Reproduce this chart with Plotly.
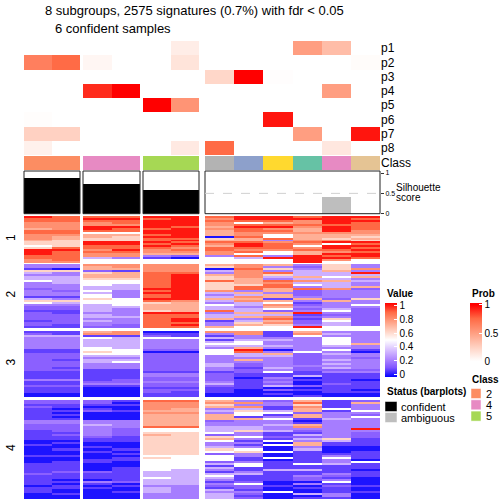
import plotly.graph_objects as go

title_lines = ["8 subgroups, 2575 signatures (0.7%) with fdr &lt; 0.05", "6 confident samples"]
prob_labels = ["p1", "p2", "p3", "p4", "p5", "p6", "p7", "p8"]

# each list runs sample by sample: group 1 (2), group 2 (2), group 3 (2), group 4 (6)
p1 = [0, 0, 0, 0, 0, .10, 0, 0, 0, .5, .35, 0]
p2 = [.65, .75, .05, 0, 0, .15, 0, 0, 0, 0, 0, .02]
p3 = [0, 0, 0, 0, 0, 0, .22, 1, .01, 0, 0, 0]
p4 = [0, 0, .9, 1, 0, 0, 0, 0, 0, 0, .5, 0]
p5 = [0, 0, 0, 0, 1, .55, 0, 0, 0, 0, 0, 0]
p6 = [.015, 0, 0, 0, 0, 0, 0, 0, .95, 0, 0, 0]
p7 = [.25, .25, 0, 0, 0, 0, 0, 0, 0, .5, 0, .95]
p8 = [.08, 0, 0, 0, 0, .12, .75, 0, 0, 0, .13, 0]

classes = ["2", "2", "4", "4", "5", "5", "1", "3", "6", "7", "4", "8"]
class_colors = {"1": "#B3B3B3", "2": "#FC8D62", "3": "#8DA0CB", "4": "#E78AC3",
                "5": "#A6D854", "6": "#FFD92F", "7": "#66C2A5", "8": "#E5C494"}
silhouette = [.88, .88, .72, .72, .58, .58, 0, 0, 0, 0, .41, 0]
status = ["confident"] * 6 + ["ambiguous"] * 6
status_colors = {"confident": "#000000", "ambiguous": "#BEBEBE"}

# signature values per sample, one character per row, top to bottom (index into value_levels)
value_levels = [0, .07, .13, .2, .32, .5, .62, .72, .8, .9, 1]
block1 = [
 "a998 8879 9888 7665 6aaa 9988", "9998 8889 9877 6666 9a99 9998",
 "9a98 8aa9 5776 6aa9 9898 8455", "9a99 8a99 5766 6aa9 9a98 8355",
 "a9aa aa9a a9a9 9a9a 9887 3155", "aaaa a9aa aaa9 a9a9 8987 2055",
 "9898 8787 7706 7987 9988 3555", "aa95 9a99 8897 79aa 9895 9455",
 "aa97 9a89 8559 3899 9855 3a55", "9a88 9877 8777 8985 8977 aaaa",
 "aaaa 9aaa 8776 8a5a a98a 9a85", "a9a9 9998 8767 6a9a 9a9a a955",
]
block2 = [
 "3316 4344 5333 2333 1465 3221 2222 1221", "3306 3344 4433 3233 1364 3221 1222 2211",
 "8772 6776 5554 4545 5655 4444 3443 4332", "8871 7776 5544 4333 3555 5433 3343 3322",
 "8888 9999 9999 a9a9 9a96 7776 a999 9999", "8888 9aaa aaaa aaaa aa87 7777 a99a a9a9",
 "7604 3766 9666 6843 4743 5449 3447 1337", "8898 8887 7769 9374 8784 4344 7473 4675",
 "7363 9643 9899 7737 7175 8752 7489 7865", "3234 4474 8453 9222 3731 2323 a121 223a",
 "6667 4454 7444 8333 3273 3345 3236 5445", "3383 a473 4337 2333 3633 5322 2222 2225",
]
block3 = [
 "1243 3333 3112 2222 2222 1111 3112 1110 0", "1143 3333 3112 2212 2212 1111 3112 1110 0",
 "7815 4444 5565 4344 3331 1111 1231 0000 0", "8814 4444 4555 4345 3331 1111 2231 0000 0",
 "0125 3333 3202 2222 2222 1332 2322 1221 1", "0115 3333 3202 2222 2222 1332 2322 1211 1",
 "8314 1454 3555 3333 4433 1222 2342 1110 0", "8833 4554 7a94 4373 2212 2110 1111 1000 0",
 "1113 4334 3037 4333 3343 5113 2324 0201 0", "7853 3333 3352 2222 2322 1140 1002 0100 1",
 "3435 5554 3534 3343 4342 3111 1121 1110 0", "3333 3373 3103 3233 3332 3111 0111 1010 0",
]
block4 = [
 "2212 1111 1133 2221 1111 0010 0001 0001 1111 2111 1101 1100 0",
 "2211 0101 0133 2222 1211 0100 1001 0011 1112 1110 1011 0010 0",
 "2210 1200 0033 4333 3321 1001 0100 0110 0002 1110 3101 0000 0",
 "1010 0100 0033 3322 2211 1000 1010 1100 0111 1111 2010 0100 0",
 "9888 8787 7777 7955 6766 6666 6665 6555 5554 4454 4434 4433 3",
 "9888 7787 7777 7955 6666 6666 6665 5555 5544 4444 4433 3333 3",
 "7867 3437 7723 3444 5267 5334 6525 5524 1431 4543 1321 4344 4",
 "3838 4655 1733 3446 3353 1313 5633 1135 5113 4111 2522 1321 2",
 "2331 1451 3533 4334 1121 5050 0500 5011 1141 1111 0010 0500 0",
 "7968 7727 7101 7832 1424 3773 4111 1115 1141 1322 0301 0040 1",
 "1111 5133 3433 3333 3336 4110 0013 5334 1111 3213 5121 1133 1",
 "2733 3532 5333 33a3 2221 1110 0111 1051 1101 1100 0010 0100 0",
]
row_blocks = [("1", block1), ("2", block2), ("3", block3), ("4", block4)]
legend_class = ["2", "4", "5"]
legend_status = ["confident", "ambiguous"]

W = H = 504
FONT = "Liberation Sans"
x_spans = [(24, 80), (83, 140), (143, 199), (205, 380)]
sample_slices = [(0, 2), (2, 4), (4, 6), (6, 12)]
y_spans = [(41, 155.3), (156, 170), (171, 213.7), (216, 263), (264, 328), (331, 397), (400, 499)]


def px(x):
    return x / W


def py(y):
    return 1 - y / H


def decode(col):
    return [value_levels[int(c, 16)] for c in col.replace(" ", "")]


value_scale = [[0, "#0000FF"], [.125, "#8055FF"], [.25, "#B38BFF"], [.375, "#DBC4FF"], [.5, "#FFFFFF"],
               [.625, "#FFD0C0"], [.75, "#FF9E81"], [.875, "#FF6A45"], [1, "#FF0000"]]
prob_scale = [[0, "#FFFFFF"], [.03, "#FFFFFF"], [.27, "#FFD0C0"], [.5, "#FF9E81"], [.74, "#FF6A45"], [.97, "#FF0000"], [1, "#FF0000"]]

fig = go.Figure()
prob_rows = [p1, p2, p3, p4, p5, p6, p7, p8]
xname = ["x", "x2", "x3", "x4"]
layout_axes = {}

for i, (a, b) in enumerate(x_spans):
    key = "xaxis" if i == 0 else f"xaxis{i + 1}"
    n = sample_slices[i][1] - sample_slices[i][0]
    layout_axes[key] = dict(domain=[px(a), px(b)], range=[-.5, n - .5], visible=False, anchor="y")

for k, (top, bot) in enumerate(y_spans):
    key = "yaxis" if k == 0 else f"yaxis{k + 1}"
    layout_axes[key] = dict(domain=[py(bot), py(top)], showgrid=False, zeroline=False, showline=False,
                            ticks="", showticklabels=False)

for i, (s, e) in enumerate(sample_slices):
    xa = xname[i]
    xs = list(range(e - s))
    fig.add_trace(go.Heatmap(z=[r[s:e] for r in prob_rows], x=xs, xaxis=xa, yaxis="y",
                             coloraxis="coloraxis2", hoverinfo="skip"))
    fig.add_trace(go.Bar(x=xs, y=[1] * (e - s), width=1, xaxis=xa, yaxis="y2", showlegend=False,
                         marker=dict(color=[class_colors[c] for c in classes[s:e]], line_width=0)))
    fig.add_trace(go.Bar(x=xs, y=silhouette[s:e], width=1, xaxis=xa, yaxis="y3", showlegend=False,
                         marker=dict(color=[status_colors[c] for c in status[s:e]], line_width=0)))
    for k, (label, block) in enumerate(row_blocks):
        cols = [decode(c) for c in block[s:e]]
        rows = [list(r) for r in zip(*cols)]
        fig.add_trace(go.Heatmap(z=rows, x=xs, xaxis=xa, yaxis=f"y{k + 4}",
                                 coloraxis="coloraxis", hoverinfo="skip"))

layout_axes["yaxis"].update(range=[7.5, -.5], anchor="x4", side="right", showticklabels=True,
                            tickvals=list(range(8)), ticktext=prob_labels, tickfont=dict(size=12))
layout_axes["yaxis2"].update(range=[0, 1], anchor="x4", side="right", showticklabels=True,
                             tickvals=[.5], ticktext=["Class"], tickfont=dict(size=12))
layout_axes["yaxis3"].update(range=[0, 1.05], anchor="x4", side="right", showticklabels=True,
                             tickvals=[0, .5, 1], ticktext=["0", "0.5", "1"], ticks="outside",
                             ticklen=3, tickwidth=1, tickcolor="#333", tickfont=dict(size=7))
for k, (label, block) in enumerate(row_blocks):
    n = len(block[0].replace(" ", ""))
    layout_axes[f"yaxis{k + 4}"].update(range=[n - .5, -.5], anchor="x", side="left", showticklabels=True,
                                        tickvals=[(n - 1) / 2], ticktext=[label], tickangle=-90,
                                        ticks="outside", ticklen=3, tickcolor="rgba(0,0,0,0)",
                                        tickfont=dict(size=12))

shapes = []
for i in range(4):
    shapes.append(dict(type="rect", xref=f"{xname[i]} domain", yref="y3 domain", x0=0, x1=1, y0=0, y1=1,
                       line=dict(color="#222222", width=1), fillcolor="rgba(0,0,0,0)", layer="above"))
shapes.append(dict(type="line", xref="x4 domain", yref="y3", x0=0, x1=1, y0=.5, y1=.5,
                   line=dict(color="#D0D0D0", width=1, dash="dash"), layer="above"))


def note(text, x, y, size=10, bold=False):
    return dict(text=f"<b>{text}</b>" if bold else text, x=px(x), y=py(y), xref="paper", yref="paper",
                xanchor="left", yanchor="middle", showarrow=False, font=dict(size=size, family=FONT, color="#000"))


annotations = [
    note(title_lines[0], 43, 10, 13), note(title_lines[1], 53, 28, 13),
    note("Silhouette", 394, 187, 10), note("score", 394, 198, 10),
    note("Value", 385, 293, 10, True), note("Prob", 470, 293, 10, True),
    note("Status (barplots)", 385, 391, 10, True), note("Class", 470, 379, 10, True),
]


def swatch(color, x0, x1, y0, y1):
    return dict(type="rect", xref="paper", yref="paper", x0=px(x0), x1=px(x1), y0=py(y1), y1=py(y0),
                fillcolor=color, line=dict(color="#FFFFFF", width=0.5))


for j, name in enumerate(legend_status):
    shapes.append(swatch(status_colors[name], 385, 397, 401.5 + j * 11, 411.5 + j * 11))
    annotations.append(note(name, 399, 406.5 + j * 11.5, 11))
for j, name in enumerate(legend_class):
    shapes.append(swatch(class_colors[name], 471, 481, 388.5 + j * 11.3, 398.5 + j * 11.3))
    annotations.append(note(name, 484, 393.5 + j * 11.3, 11))

fig.update_layout(
    width=W, height=H, autosize=False, margin=dict(l=0, r=0, t=0, b=0, autoexpand=False),
    paper_bgcolor="white", plot_bgcolor="white", barmode="overlay", bargap=0,
    showlegend=False, font=dict(family=FONT, color="#000"),
    shapes=shapes, annotations=annotations,
    coloraxis=dict(cmin=-.03, cmax=1.03, colorscale=value_scale, colorbar=dict(
        x=px(385), xanchor="left", y=py(303), yanchor="top", lenmode="pixels", len=74,
        thicknessmode="pixels", thickness=12, ypad=0, xpad=0, outlinewidth=0,
        tickvals=[0, .2, .4, .6, .8, 1], ticktext=["0", "0.2", "0.4", "0.6", "0.8", "1"],
        ticks="inside", ticklen=3, tickcolor="#FFFFFF", tickfont=dict(size=10))),
    coloraxis2=dict(cmin=-.03, cmax=1.03, colorscale=prob_scale, colorbar=dict(
        x=px(470), xanchor="left", y=py(303), yanchor="top", lenmode="pixels", len=60,
        thicknessmode="pixels", thickness=12, ypad=0, xpad=0, outlinewidth=0,
        tickvals=[0, .5, 1], ticktext=["0", "0.5", "1"],
        ticks="inside", ticklen=3, tickcolor="#FFFFFF", tickfont=dict(size=10))),
    **layout_axes,
)
fig.write_html("out.html", config=dict(displayModeBar=False),
               post_script="document.body.style.margin='0';document.body.style.overflow='hidden';")
